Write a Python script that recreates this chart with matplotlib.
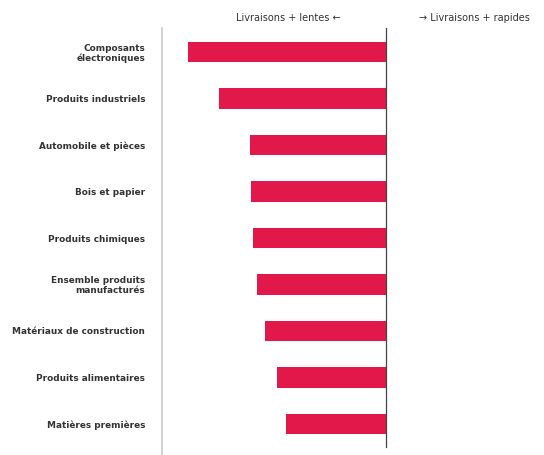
import matplotlib.pyplot as plt

# Categories, top to bottom
categories = [
    "Composants\nélectroniques",
    "Produits industriels",
    "Automobile et pièces",
    "Bois et papier",
    "Produits chimiques",
    "Ensemble produits\nmanufacturés",
    "Matériaux de construction",
    "Produits alimentaires",
    "Matières premières",
]
# (negative = slower deliveries)
values = [-6.60, -5.57, -4.53, -4.50, -4.43, -4.30, -4.03, -3.63, -3.33]

bar_color = "#e3184a"
text_color = "#333333"

fig = plt.figure(figsize=(5.44, 4.55), dpi=100)
ax = fig.add_axes([162 / 544, 0.0, (540 - 162) / 544, 1 - 28 / 455])

ypos = list(range(len(categories)))
ax.barh(ypos, values, height=0.44, color=bar_color)

ax.set_xlim(-7.47, 5.13)
ax.set_ylim(8.67, -0.52)

# zero line
ax.axvline(0, ymin=(8.67 - 8.5) / 9.19, ymax=1, color="#444444", lw=0.9)

for s in ["top", "right", "bottom"]:
    ax.spines[s].set_visible(False)
ax.spines["left"].set_color("#cccccc")
ax.spines["left"].set_linewidth(1.2)

ax.set_xticks([])
ax.set_yticks(ypos)
ax.set_yticklabels(categories, fontsize=6.4, fontweight="bold", color=text_color,
                   linespacing=1.05)
ax.tick_params(axis="y", length=0, pad=12)

fig.text(288 / 544, 1 - 18 / 455, "Livraisons + lentes \u2190", ha="center", va="center",
         fontsize=7, color=text_color)
fig.text(474 / 544, 1 - 18 / 455, "\u2192 Livraisons + rapides", ha="center", va="center",
         fontsize=7, color=text_color)

fig.savefig("out.png", dpi=100)
